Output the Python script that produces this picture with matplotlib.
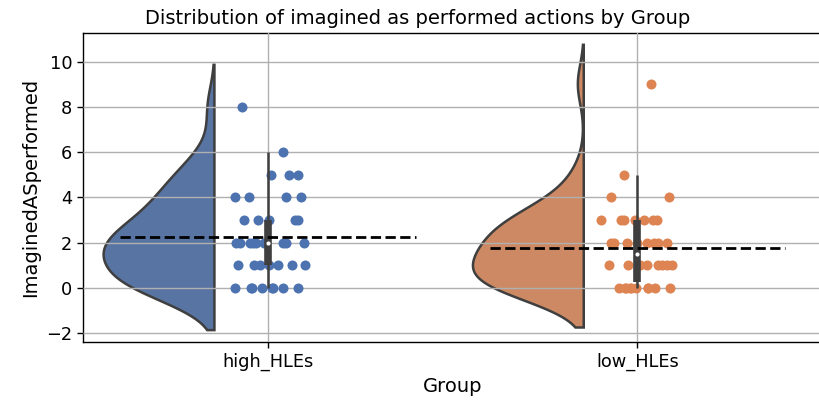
import numpy as np
import matplotlib
matplotlib.use("Agg")
import matplotlib.pyplot as plt

# ---------------- data ----------------
groups = ["high_HLEs", "low_HLEs"]

high_values = [8,
               6,
               5, 5, 5,
               4, 4, 4, 4,
               3, 3, 3, 3, 3,
               2, 2, 2, 2, 2, 2, 2, 2, 2,
               1, 1, 1, 1, 1, 1, 1,
               0, 0, 0, 0, 0, 0, 0, 0]
# horizontal jitter of each strip point
high_jitter = [-0.071,
               0.042,
               0.008, 0.056, 0.080,
               -0.088, -0.052, 0.049, 0.089,
               -0.064, -0.026, 0.004, 0.074, 0.080,
               -0.086, -0.075, -0.048, -0.041, -0.032, -0.010, 0.042, 0.049, 0.098,
               -0.080, -0.037, -0.021, 0.004, 0.026, 0.064, 0.100,
               -0.089, -0.046, -0.017, 0.011, 0.040, 0.082, -0.044, 0.013]

low_values = [9,
              5,
              4, 4,
              3, 3, 3, 3, 3, 3, 3,
              2, 2, 2, 2, 2, 2, 2, 2,
              1, 1, 1, 1, 1, 1, 1, 1, 1,
              0, 0, 0, 0, 0, 0, 0, 0, 0, 0]
low_jitter = [0.038,
              -0.035,
              -0.070, 0.086,
              -0.097, -0.044, -0.035, -0.005, 0.019, 0.042, 0.053,
              -0.071, -0.062, -0.028, -0.001, 0.026, 0.044, 0.055, 0.080,
              -0.077, -0.024, 0.004, 0.026, 0.055, 0.067, 0.080, 0.094, 0.006,
              -0.050, -0.032, -0.019, -0.003, 0.028, 0.049, 0.089, -0.030, -0.017, 0.030]

all_values = [high_values, low_values]
all_jitter = [high_jitter, low_jitter]

# ---------------- style ----------------
point_colors = ["#4C72B0", "#DD8452"]
violin_colors = ["#5874A3", "#CC8963"]
edge_gray = "#3f3f3f"
violin_shift = -0.145
violin_halfwidth = 0.30
mean_halfwidth = 0.40

fig = plt.figure(figsize=(8.2, 4.04), dpi=100)
ax = fig.add_axes([0.1016, 0.1542, 0.9008, 0.7634])


def kde(vals, cut=2.0, n=256):
    v = np.asarray(vals, dtype=float)
    bw = len(v) ** (-1 / 5) * v.std(ddof=1)
    grid = np.linspace(v.min() - cut * bw, v.max() + cut * bw, n)
    dens = np.exp(-0.5 * ((grid[:, None] - v[None, :]) / bw) ** 2).sum(axis=1)
    dens /= len(v) * bw * np.sqrt(2 * np.pi)
    return grid, dens


for i, (vals, jit) in enumerate(zip(all_values, all_jitter)):
    v = np.asarray(vals, dtype=float)
    # half violin (cloud)
    grid, dens = kde(v)
    dens = dens / dens.max() * violin_halfwidth
    edge = i + violin_shift
    xs = np.concatenate([edge - dens, [edge, edge]])
    ys = np.concatenate([grid, [grid[-1], grid[0]]])
    ax.fill(xs, ys, facecolor=violin_colors[i], edgecolor=edge_gray,
            linewidth=1.8, zorder=1)

    # strip points (rain)
    ax.scatter(i + np.asarray(jit), v, s=52, color=point_colors[i],
               linewidths=0, zorder=3)

    # inner box
    q1, med, q3 = np.percentile(v, [25, 50, 75])
    iqr = q3 - q1
    lo = v[v >= q1 - 1.5 * iqr].min()
    hi = v[v <= q3 + 1.5 * iqr].max()
    ax.plot([i, i], [lo, hi], color=edge_gray, lw=1.8,
            solid_capstyle="butt", zorder=4)
    ax.plot([i, i], [q1, q3], color=edge_gray, lw=5.5,
            solid_capstyle="butt", zorder=4)
    ax.plot([i], [med], marker="o", markersize=3, color="white",
            markeredgewidth=0, zorder=5)

    # mean line
    m = v.mean()
    ax.plot([i - mean_halfwidth, i + mean_halfwidth], [m, m], color="black",
            lw=2.0, linestyle="--", zorder=6)

ax.set_xlim(-0.5, 1.5)
ax.set_ylim(-2.37, 11.25)
ax.set_xticks(range(len(groups)))
ax.set_xticklabels(groups)
ax.set_yticks([-2, 0, 2, 4, 6, 8, 10])
ax.grid(True, color="#b0b0b0", linewidth=1.0)
ax.set_axisbelow(False)
for gl in ax.get_xgridlines() + ax.get_ygridlines():
    gl.set_zorder(2)

ax.tick_params(labelsize=12.8, length=4.5, width=1.0)
for s in ax.spines.values():
    s.set_linewidth(1.0)
ax.set_xlabel("Group", fontsize=14)
ax.set_ylabel("ImaginedASperformed", fontsize=14)
ax.set_title("Distribution of imagined as performed actions by Group",
             fontsize=14, pad=7, x=0.452)

fig.savefig("out.png", dpi=100)
